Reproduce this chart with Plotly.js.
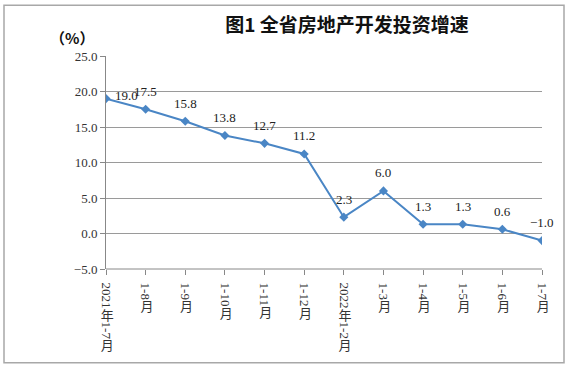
<!DOCTYPE html>
<html>
<head>
<meta charset="utf-8">
<script src="https://cdn.plot.ly/plotly-3.0.1.min.js"></script>
<style>html,body{margin:0;padding:0;background:#fff;}#chart{width:570px;height:366px;}</style>
</head>
<body>
<div id="chart"></div>
<script>
var categories = ["2021年1-7月","1-8月","1-9月","1-10月","1-11月","1-12月","2022年1-2月","1-3月","1-4月","1-5月","1-6月","1-7月"];
var growth = [19.0, 17.5, 15.8, 13.8, 12.7, 11.2, 2.3, 6.0, 1.3, 1.3, 0.6, -1.0];
var yTicks = [-5, 0, 5, 10, 15, 20, 25];
var yTickLabels = ["−5.0","0.0","5.0","10.0","15.0","20.0","25.0"];

var serif = "Liberation Serif, 'Noto Sans CJK SC', serif";
var idx = categories.map(function(c, i){ return i; });

var trace = {
  x: idx, y: growth, type: "scatter", mode: "lines+markers",
  line: {color: "#4a86c5", width: 2},
  marker: {symbol: "diamond", size: 7, color: "#4a86c5"},
  hoverinfo: "skip", showlegend: false
};

var annotations = growth.map(function(v, i){
  return {
    x: i, y: v, xref: "x", yref: "y",
    text: v < 0 ? "−" + Math.abs(v).toFixed(1) : v.toFixed(1),
    showarrow: false, xanchor: "center", yanchor: "middle",
    xshift: i === 0 ? 20 : 0, yshift: i === 0 ? 3 : 18,
    font: {family: serif, size: 13, color: "#222"}
  };
});
annotations.push({
  xref: "paper", yref: "paper", x: -0.078, y: 1.085, text: "<b>（%）</b>",
  showarrow: false, xanchor: "center", yanchor: "middle",
  font: {family: "'Noto Sans CJK SC', sans-serif", size: 15, color: "#111"}
});

var layout = {
  width: 570, height: 366,
  margin: {l: 106, r: 28, t: 56, b: 97},
  paper_bgcolor: "#fff", plot_bgcolor: "#fff",
  title: {text: "<b>图1 全省房地产开发投资增速</b>", x: 0.553, xref: "paper", xanchor: "center",
          y: 0.93, yref: "container", yanchor: "middle",
          font: {family: "'Noto Sans CJK SC', sans-serif", size: 19, color: "#111"}},
  xaxis: {
    range: [0, 11], tickvals: idx, ticktext: categories, tickangle: 90,
    showgrid: false, zeroline: false,
    showline: false,
    ticks: "outside", ticklen: 5, tickcolor: "#888",
    tickfont: {family: serif, size: 13, color: "#333"},
    fixedrange: true
  },
  yaxis: {
    range: [-5, 25], tickvals: yTicks, ticktext: yTickLabels,
    showgrid: true, gridcolor: "#9a9a9a", gridwidth: 1,
    zeroline: false, showline: true, linecolor: "#888", linewidth: 1,
    ticks: "outside", ticklen: 5, tickcolor: "#888",
    tickfont: {family: serif, size: 13, color: "#333"},
    fixedrange: true
  },
  shapes: [
    {type: "line", xref: "paper", yref: "paper", x0: 0, x1: 1, y0: 0, y1: 0, line: {color: "#888", width: 1}},
    {type: "rect", xref: "paper", yref: "paper",
     x0: (4 - 106) / 436, x1: (564 - 106) / 436,
     y0: (269 - 363) / 213.3, y1: (269 - 5) / 213.3,
     line: {color: "#a8a8a8", width: 1.5}, layer: "below"}
  ],
  annotations: annotations
};

var gd = document.getElementById("chart");
Plotly.newPlot(gd, [trace], layout, {displayModeBar: false, staticPlot: true}).then(function(){
  // Render x tick labels in vertical writing mode (CJK upright, digits sideways) like the source.
  try {
    gd.querySelectorAll(".xtick text").forEach(function(t){
      var before = t.getBoundingClientRect();
      var cx = before.left + before.width / 2, top = before.top + 5;
      t.removeAttribute("transform");
      t.style.writingMode = "vertical-rl";
      t.style.textOrientation = "mixed";
      t.setAttribute("text-anchor", "start");
      var after = t.getBoundingClientRect();
      var dx = cx - (after.left + after.width / 2), dy = top - after.top;
      t.setAttribute("transform", "translate(" + dx + "," + dy + ")");
    });
  } catch (e) {}
});
</script>
</body>
</html>
